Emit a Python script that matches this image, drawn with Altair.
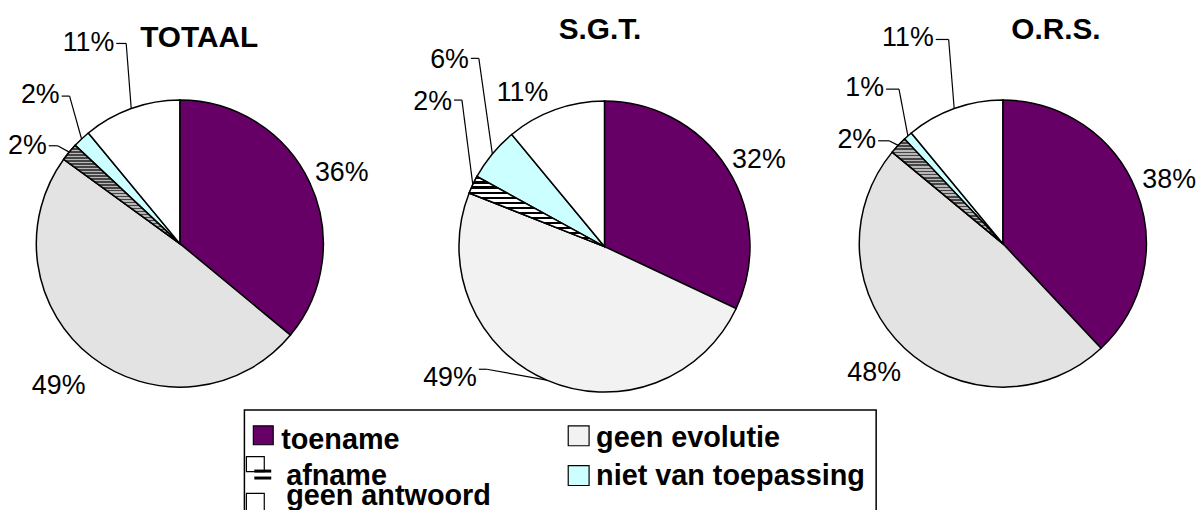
import math
import altair as alt
import pandas as pd

# ---------------- data ----------------
categories = ["toename", "geen evolutie", "afname", "niet van toepassing", "geen antwoord"]
pies = ["TOTAAL", "S.G.T.", "O.R.S."]
totaal_pct = [36, 49, 2, 2, 11]
sgt_pct = [32, 49, 2, 6, 11]
ors_pct = [38, 48, 2, 1, 11]
series = {"TOTAAL": totaal_pct, "S.G.T.": sgt_pct, "O.R.S.": ors_pct}

# ---------------- layout (page pixels) ----------------
M = 8  # page margin
FONT = "Liberation Sans"
PIE_LAYOUT = {"TOTAAL": (181, 243.5, 144.5), "S.G.T.": (608.5, 246.5, 146.5), "O.R.S.": (1009.5, 243.5, 144.5)}
TITLE_POS = {"TOTAAL": (200.5, 46), "S.G.T.": (604, 38), "O.R.S.": (1063, 38)}
LABEL_POS = {
    ("TOTAAL", "toename"): (317, 180, "left"),
    ("TOTAAL", "geen evolutie"): (32, 395, "left"),
    ("TOTAAL", "afname"): (47, 153, "right"),
    ("TOTAAL", "niet van toepassing"): (60, 102, "right"),
    ("TOTAAL", "geen antwoord"): (115, 50, "right"),
    ("S.G.T.", "toename"): (737, 167, "left"),
    ("S.G.T.", "geen evolutie"): (480, 387, "right"),
    ("S.G.T.", "afname"): (455, 109, "right"),
    ("S.G.T.", "niet van toepassing"): (472, 67, "right"),
    ("S.G.T.", "geen antwoord"): (500, 100, "left"),
    ("O.R.S.", "toename"): (1150, 188, "left"),
    ("O.R.S.", "geen evolutie"): (853, 382, "left"),
    ("O.R.S.", "afname"): (882, 147, "right"),
    ("O.R.S.", "niet van toepassing"): (890, 95, "right"),
    ("O.R.S.", "geen antwoord"): (940, 45, "right"),
}
LEADERS = {
    ("TOTAAL", "afname"): (49, 58, 145),
    ("TOTAAL", "niet van toepassing"): (62, 70, 95),
    ("TOTAAL", "geen antwoord"): (117, 127, 42),
    ("S.G.T.", "geen evolutie"): (482, 490, 370),
    ("S.G.T.", "afname"): (457, 465, 99),
    ("S.G.T.", "niet van toepassing"): (474, 482, 57),
    ("O.R.S.", "afname"): (884, 895, 140),
    ("O.R.S.", "niet van toepassing"): (892, 905, 88),
    ("O.R.S.", "geen antwoord"): (942, 955, 38),
}
LEGEND_POS = {
    "toename": (255, 427, 275, 446, 283, 450, "toename"),
    "geen evolutie": (572, 427, 593, 447, 600, 448, "geen evolutie (stip)"),
    "niet van toepassing": (572, 467, 593, 487, 600, 487, "niet van toepassing"),
    "afname": (248, 458, 266, 473, 288, 487, "geen antwoord"),
    "geen antwoord": (248, 495, 266, 522, 288, 507, "geen antwoord"),
}
LEGEND_BOX = (246, 411, 882, 530)

# ---------------- styles ----------------
fill_keys = ["toename", "geen evolutie", "geen evolutie (stip)", "afname",
             "niet van toepassing", "geen antwoord"]
fill_colors = ["#660066", "#e3e3e3", "#f2f2f2", "#808080", "#ccffff", "#ffffff"]


def stripes(c1, c2, n):
    stops = []
    for i in range(n):
        a, b, c = i / n, (i + 0.5) / n, (i + 1) / n
        stops += [alt.GradientStop(offset=a, color=c1), alt.GradientStop(offset=b, color=c1),
                  alt.GradientStop(offset=b, color=c2), alt.GradientStop(offset=c, color=c2)]
    return alt.LinearGradient(gradient="linear", x1=0, y1=0, x2=0, y2=1, stops=stops)


hatch_grey = stripes("#454545", "#b8b8b8", 33)
hatch_bw = stripes("#000000", "#ffffff", 14)

# ---------------- tables ----------------
rows = []
for pie in pies:
    cx, cy, r = PIE_LAYOUT[pie]
    for i, (cat, v) in enumerate(zip(categories, series[pie])):
        lx, ly, align = LABEL_POS[(pie, cat)]
        fk = cat
        if pie == "S.G.T." and cat == "geen evolutie":
            fk = "geen evolutie (stip)"
        row = dict(pie=pie, category=cat, order=i, value=v, fillkey=fk,
                   cx=cx - M, cy=cy - M, r=r, lx=lx - M, ly=ly - M, align=align)
        lead = LEADERS.get((pie, cat))
        if lead:
            row.update(lsx=lead[0] - M, lex=lead[1] - M, lly=lead[2] - M, lead=1)
        else:
            row.update(lead=0)
        rows.append(row)
df = pd.DataFrame(rows)

titles = pd.DataFrame([dict(pie=p, tx=TITLE_POS[p][0] - M, ty=TITLE_POS[p][1] - M) for p in pies])

leg = pd.DataFrame([dict(category=c, x0=LEGEND_POS[c][0] - M, y0=LEGEND_POS[c][1] - M,
                         x1=LEGEND_POS[c][2] - M, y1=LEGEND_POS[c][3] - M,
                         tx=LEGEND_POS[c][4] - M, ty=LEGEND_POS[c][5] - M,
                         fillkey=LEGEND_POS[c][6]) for c in categories])

color_scale = alt.Scale(domain=fill_keys, range=fill_colors)
theta_scale = alt.Scale(domain=[0, 100], range=[0, 2 * math.pi])

base = alt.Chart(df).transform_window(
    cum_end="sum(value)", groupby=["pie"], sort=[alt.SortField("order")], frame=[None, 0]
).transform_calculate(
    cum_start="datum.cum_end - datum.value",
    mid="datum.cum_end - datum.value / 2",
    label="datum.value + '%'",
)

arc_enc = dict(
    x=alt.X("cx:Q", scale=None),
    y=alt.Y("cy:Q", scale=None),
    radius=alt.Radius("r:Q", scale=None),
    theta=alt.Theta("cum_start:Q", scale=theta_scale, stack=False),
    theta2="cum_end:Q",
)

arcs = base.mark_arc(stroke="black", strokeWidth=1.5).encode(
    color=alt.Color("fillkey:N", scale=color_scale, legend=None), **arc_enc
)
hatch1 = base.transform_filter(
    "datum.category == 'afname' && datum.pie != 'S.G.T.'"
).mark_arc(fill=hatch_grey, stroke="black", strokeWidth=1.5).encode(**arc_enc)
hatch2 = base.transform_filter(
    "datum.category == 'afname' && datum.pie == 'S.G.T.'"
).mark_arc(fill=hatch_bw, stroke="black", strokeWidth=1.5).encode(**arc_enc)

leaders = base.transform_filter("datum.lead == 1")
seg1 = leaders.mark_rule(color="black", strokeWidth=1.2).encode(
    x=alt.X("lsx:Q", scale=None), x2="lex:Q",
    y=alt.Y("lly:Q", scale=None), y2="lly:Q",
)
seg2 = leaders.transform_calculate(
    ex="datum.cx + datum.r * sin(2 * PI * datum.mid / 100)",
    ey="datum.cy - datum.r * cos(2 * PI * datum.mid / 100)",
).mark_rule(color="black", strokeWidth=1.2).encode(
    x=alt.X("lex:Q", scale=None), x2="ex:Q",
    y=alt.Y("lly:Q", scale=None), y2="ey:Q",
)

lab_left = base.transform_filter("datum.align == 'left'").mark_text(
    align="left", baseline="alphabetic", font=FONT, fontSize=27, color="black"
).encode(x=alt.X("lx:Q", scale=None), y=alt.Y("ly:Q", scale=None), text="label:N")
lab_right = base.transform_filter("datum.align == 'right'").mark_text(
    align="right", baseline="alphabetic", font=FONT, fontSize=27, color="black"
).encode(x=alt.X("lx:Q", scale=None), y=alt.Y("ly:Q", scale=None), text="label:N")

title_marks = alt.Chart(titles).mark_text(
    align="center", baseline="alphabetic", font=FONT, fontSize=30, fontWeight="bold", color="black"
).encode(x=alt.X("tx:Q", scale=None), y=alt.Y("ty:Q", scale=None), text="pie:N")

box = alt.Chart(alt.Data(values=[{}])).mark_rect(
    fill="white", stroke="black", strokeWidth=1.5
).encode(
    x=alt.value(LEGEND_BOX[0] - M), x2=alt.value(LEGEND_BOX[2] - M),
    y=alt.value(LEGEND_BOX[1] - M), y2=alt.value(LEGEND_BOX[3] - M),
)
swatches = alt.Chart(leg).mark_rect(stroke="black", strokeWidth=1.2).encode(
    x=alt.X("x0:Q", scale=None), x2="x1:Q",
    y=alt.Y("y0:Q", scale=None), y2="y1:Q",
    color=alt.Color("fillkey:N", scale=color_scale, legend=None),
)
afname_bars = alt.Chart(alt.Data(values=[{"y0": 471 - M, "y1": 474 - M}, {"y0": 478 - M, "y1": 481 - M}])).mark_rect(
    color="black"
).encode(
    x=alt.value(256 - M), x2=alt.value(273 - M),
    y=alt.Y("y0:Q", scale=None), y2="y1:Q",
)
leg_text = alt.Chart(leg).mark_text(
    align="left", baseline="alphabetic", font=FONT, fontSize=29, fontWeight="bold", color="black"
).encode(x=alt.X("tx:Q", scale=None), y=alt.Y("ty:Q", scale=None), text="category:N")

chart = alt.layer(
    arcs, hatch1, hatch2, seg1, seg2, lab_left, lab_right, title_marks,
    box, swatches, afname_bars, leg_text,
).properties(
    width=1196, height=502, padding=0, autosize="none", background="white"
).configure_view(stroke=None)

chart.save("out.html", embed_options={"renderer": "svg", "actions": False})
